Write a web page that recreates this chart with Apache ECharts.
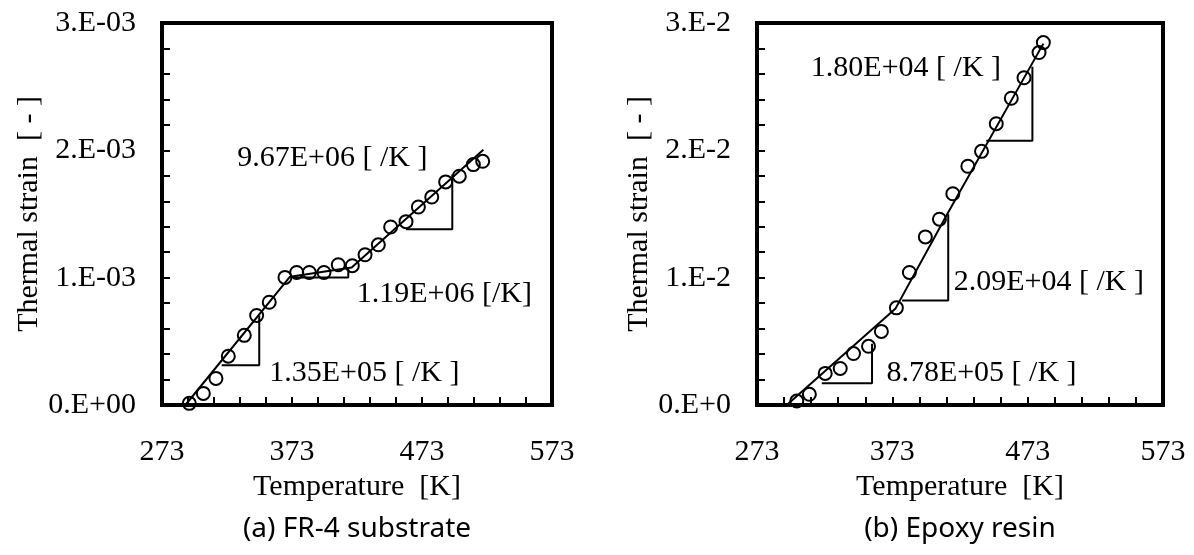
<!doctype html>
<html>
<head>
<meta charset="utf-8">
<script src="https://cdn.jsdelivr.net/npm/echarts@6/dist/echarts.min.js"></script>
<style>
* { margin: 0px; padding: 0px; }
body { background: #fff; }
#chart { width: 1194px; height: 555px; }
</style>
</head>
<body>
<div id="chart"></div>
<script>
// tick labels
var tempTicks = ['273', '373', '473', '573'];
var fr4StrainTicks = ['0.E+00', '1.E-03', '2.E-03', '3.E-03'];
var epoxyStrainTicks = ['0.E+0', '1.E-2', '2.E-2', '3.E-2'];

// (a) FR-4 substrate : measured points
var fr4Temp = [294, 304.8, 314.5, 324, 336.3, 345.8, 355.5, 367.6, 376.6, 386.3, 397.6, 408.6,
	419.4, 429.2, 439.4, 448.9, 460.7, 470.2, 480.5, 491.2, 501.7, 512.5, 519.7];
var fr4Strain = [0.013e-3, 0.091e-3, 0.209e-3, 0.383e-3, 0.547e-3, 0.703e-3, 0.807e-3, 1.002e-3,
	1.041e-3, 1.041e-3, 1.041e-3, 1.102e-3, 1.094e-3, 1.180e-3, 1.258e-3, 1.398e-3, 1.440e-3,
	1.555e-3, 1.633e-3, 1.752e-3, 1.797e-3, 1.888e-3, 1.914e-3];
// fitted line (piecewise)
var fr4FitTemp = [291, 371.5, 418.9, 520.2];
var fr4FitStrain = [0, 1.008e-3, 1.080e-3, 2.005e-3];
// slope triangles : [T start, T corner], [strain base, strain top]
var fr4TriTemp = [[318.9, 347.8], [374, 416.3], [460.7, 496.3]];
var fr4TriStrain = [[0.3125e-3, 0.703e-3], [1.002e-3, 1.080e-3], [1.380e-3, 1.810e-3]];
// slope labels
var fr4Notes = ['9.67E+06 [ /K ]', '1.19E+06 [/K]', '1.35E+05 [ /K ]'];
var fr4NoteTemp = [330.9, 422.8, 355.5];
var fr4NoteStrain = [1.9375e-3, 0.873e-3, 0.248e-3];

// (b) Epoxy resin : measured points
var epoxyTemp = [302.4, 311.7, 323.4, 334.5, 344.3, 355.4, 364.9, 376, 385.6, 397.4, 407.8,
	417.7, 428.8, 438.9, 449.8, 460.9, 470.3, 481.4, 484.6];
var epoxyStrain = [0.031e-2, 0.084e-2, 0.248e-2, 0.287e-2, 0.404e-2, 0.461e-2, 0.578e-2, 0.763e-2,
	1.041e-2, 1.320e-2, 1.459e-2, 1.659e-2, 1.875e-2, 1.992e-2, 2.209e-2, 2.409e-2, 2.570e-2,
	2.768e-2, 2.846e-2];
var epoxyFitTemp = [295, 375.2, 413.5, 484.6];
var epoxyFitStrain = [0, 0.755e-2, 1.498e-2, 2.838e-2];
var epoxyTriTemp = [[320.9, 358], [380.2, 414.3], [442.4, 476.5]];
var epoxyTriStrain = [[0.170e-2, 0.482e-2], [0.820e-2, 1.498e-2], [2.076e-2, 2.656e-2]];
var epoxyNotes = ['1.80E+04 [ /K ]', '2.09E+04 [ /K ]', '8.78E+05 [ /K ]'];
var epoxyNoteTemp = [312.8, 418.4, 368.6];
var epoxyNoteStrain = [2.643e-2, 0.963e-2, 0.248e-2];

var serif = 'Liberation Serif';
var fs = 30;
var tickLen = 8;

function pairs(xs, ys) {
	var out = [];
	for (var i = 0; i < xs.length; i++) out.push([xs[i], ys[i]]);
	return out;
}

// every 20 K a tick, a label every 100 K
function xAxisOf(gi) {
	return {
		gridIndex: gi, type: 'value', min: 273, max: 573, interval: 20,
		name: 'Temperature  [K]', nameLocation: 'middle', nameGap: 66,
		nameTextStyle: { fontFamily: serif, fontSize: fs, color: '#000' },
		axisLine: { lineStyle: { color: '#000', width: 4 } },
		axisTick: { inside: true, length: tickLen, lineStyle: { color: '#000', width: 2 } },
		splitLine: { show: false },
		axisLabel: {
			margin: 32, fontFamily: serif, fontSize: fs, color: '#000', hideOverlap: false,
			showMinLabel: true, showMaxLabel: true,
			formatter: function (v) {
				var i = Math.round((v - 273) / 20);
				return i % 5 === 0 ? tempTicks[i / 5] : '';
			}
		}
	};
}

// five ticks per labelled step
function yAxisOf(gi, unit, labels, gap) {
	return {
		gridIndex: gi, type: 'value', min: 0, max: 3 * unit, interval: unit / 5,
		name: 'Thermal strain  [ - ]', nameLocation: 'middle', nameGap: gap, nameRotate: 90,
		nameTextStyle: { fontFamily: serif, fontSize: fs, color: '#000' },
		axisLine: { lineStyle: { color: '#000', width: 4 } },
		axisTick: { inside: true, length: tickLen, lineStyle: { color: '#000', width: 2 } },
		splitLine: { show: false },
		axisLabel: {
			margin: 26, fontFamily: serif, fontSize: fs, color: '#000', hideOverlap: false,
			formatter: function (v) {
				var i = Math.round(v / (unit / 5));
				return i % 5 === 0 ? labels[i / 5] : '';
			}
		}
	};
}

function panelSeries(gi, temp, strain, fitT, fitS, triT, triS, notes, noteT, noteS) {
	var list = [];
	list.push({
		type: 'line', xAxisIndex: gi, yAxisIndex: gi, data: pairs(fitT, fitS),
		showSymbol: false, lineStyle: { color: '#000', width: 2 }, z: 3
	});
	for (var k = 0; k < triT.length; k++) {
		var t = triT[k], s = triS[k];
		list.push({
			type: 'line', xAxisIndex: gi, yAxisIndex: gi,
			data: [[t[0], s[0]], [t[1], s[0]], [t[1], s[1]]],
			showSymbol: false, lineStyle: { color: '#000', width: 2 }, z: 3
		});
	}
	list.push({
		type: 'scatter', xAxisIndex: gi, yAxisIndex: gi, data: pairs(temp, strain),
		symbol: 'circle', symbolSize: 13,
		itemStyle: { color: 'rgba(0,0,0,0)', borderColor: '#000', borderWidth: 2, opacity: 1 }, z: 4
	});
	var nd = [];
	for (var j = 0; j < notes.length; j++) nd.push({ name: notes[j], value: [noteT[j], noteS[j]] });
	list.push({
		type: 'scatter', xAxisIndex: gi, yAxisIndex: gi, data: nd, symbolSize: 0,
		itemStyle: { opacity: 1 },
		label: {
			show: true, position: 'right', distance: 0, formatter: '{b}',
			fontFamily: serif, fontSize: fs, color: '#000'
		}, z: 5
	});
	return list;
}

var chart = echarts.init(document.getElementById('chart'));
chart.setOption({
	animation: false,
	backgroundColor: '#fff',
	title: [
		{ text: '(a) FR-4 substrate', left: 357, top: 515, textAlign: 'center', padding: 0,
			textStyle: { fontFamily: 'Noto Sans', fontSize: 28, fontWeight: 'normal', color: '#000' } },
		{ text: '(b) Epoxy resin', left: 960, top: 515, textAlign: 'center', padding: 0,
			textStyle: { fontFamily: 'Noto Sans', fontSize: 28, fontWeight: 'normal', color: '#000' } }
	],
	grid: [
		{ left: 162, top: 23, width: 390, height: 382, show: true, borderColor: '#000', borderWidth: 4 },
		{ left: 757, top: 23, width: 406, height: 382, show: true, borderColor: '#000', borderWidth: 4 }
	],
	xAxis: [xAxisOf(0), xAxisOf(1)],
	yAxis: [yAxisOf(0, 1e-3, fr4StrainTicks, 118), yAxisOf(1, 1e-2, epoxyStrainTicks, 98)],
	series: panelSeries(0, fr4Temp, fr4Strain, fr4FitTemp, fr4FitStrain, fr4TriTemp, fr4TriStrain,
			fr4Notes, fr4NoteTemp, fr4NoteStrain)
		.concat(panelSeries(1, epoxyTemp, epoxyStrain, epoxyFitTemp, epoxyFitStrain, epoxyTriTemp,
			epoxyTriStrain, epoxyNotes, epoxyNoteTemp, epoxyNoteStrain))
});
</script>
</body>
</html>
